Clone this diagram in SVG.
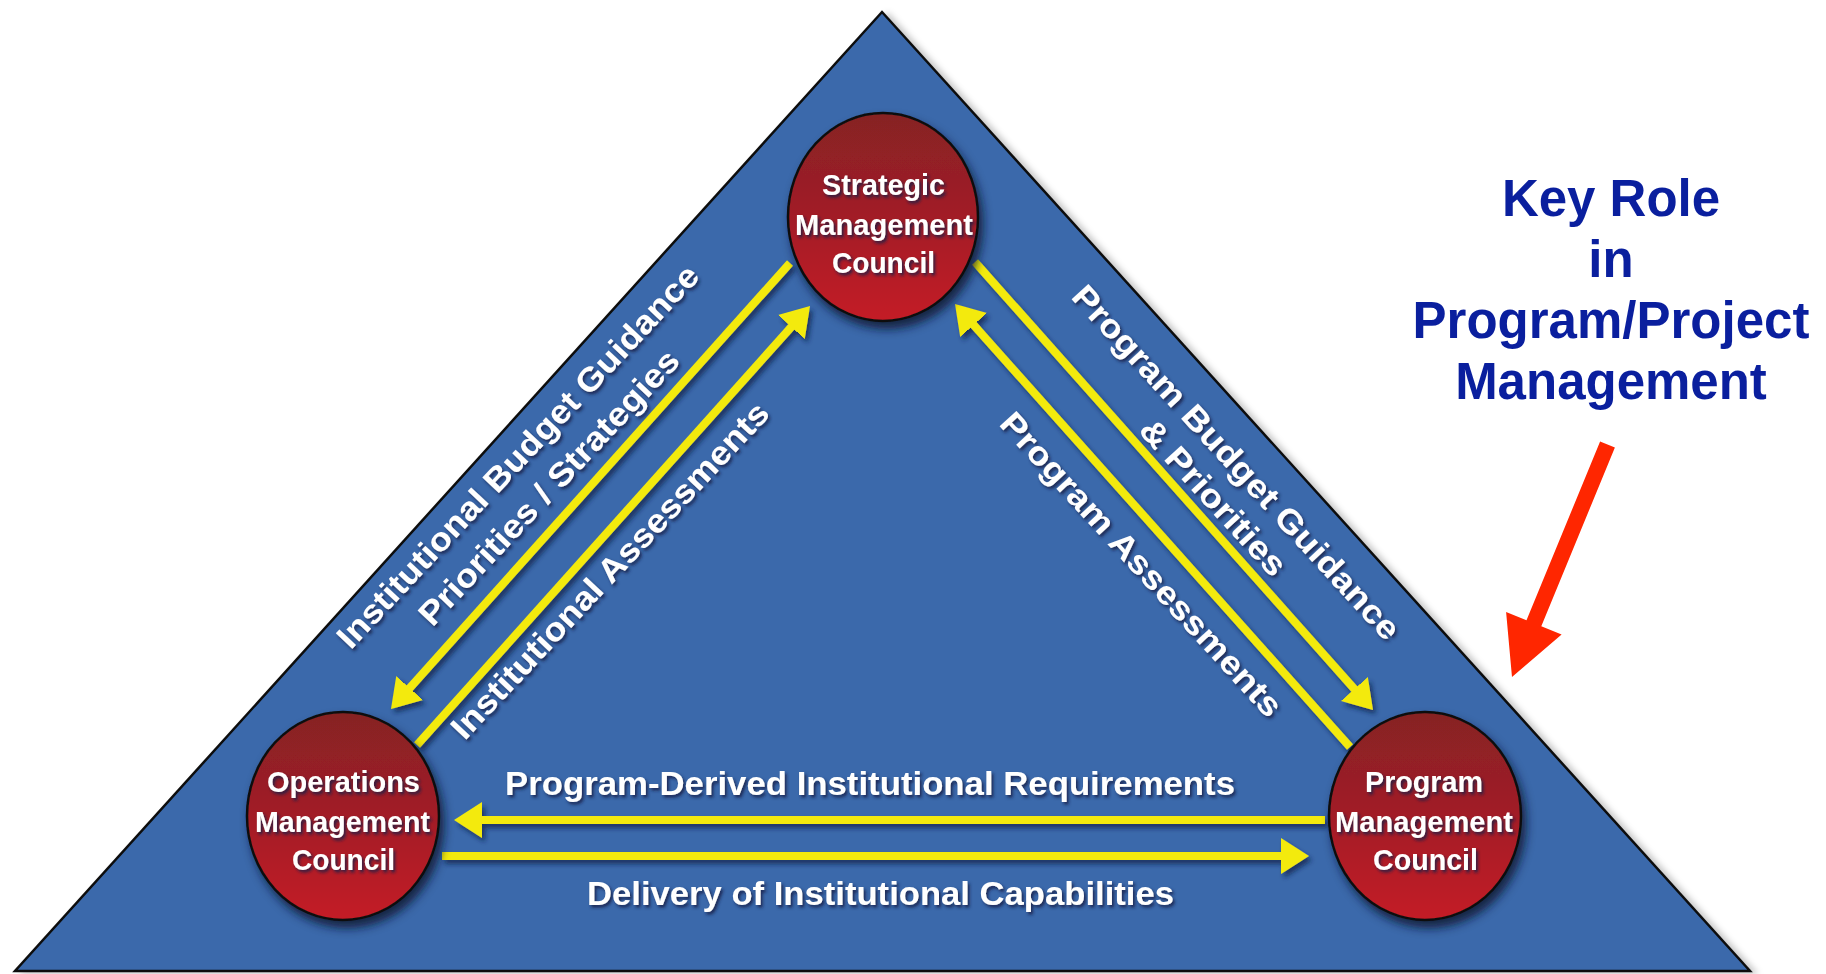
<svg xmlns="http://www.w3.org/2000/svg" width="1826" height="974" viewBox="0 0 1826 974">
  <defs>
    <style>
      .tri { fill: #3a69ab; stroke: #0d0d0d; stroke-width: 2.5; stroke-linejoin: miter; }
      .node { stroke: #111; stroke-width: 2.5; fill: url(#nodeFill); }
      .ntxt { font-family: "Liberation Sans Narrow", "Liberation Sans", Arial, sans-serif; font-weight: bold; font-size: 30px; fill: #ffffff; }
      .lbl { font-family: "Liberation Sans", Arial, sans-serif; font-weight: bold; font-size: 33px; fill: #ffffff; }
      .hlbl { font-family: "Liberation Sans Narrow", "Liberation Sans", Arial, sans-serif; font-weight: bold; font-size: 34px; fill: #ffffff; }
      .flow { stroke: #f3ea0c; stroke-width: 8; fill: none; marker-end: url(#head); }
      .key { font-family: "Liberation Sans", Arial, sans-serif; font-weight: bold; font-size: 51px; fill: #0a1f9e; text-anchor: middle; }
    </style>
    <linearGradient id="nodeFill" x1="0" y1="0" x2="0" y2="1">
      <stop offset="0" stop-color="#862224"/>
      <stop offset="0.5" stop-color="#a21d26"/>
      <stop offset="1" stop-color="#c41b26"/>
    </linearGradient>
    <marker id="head" markerUnits="userSpaceOnUse" viewBox="0 0 28 36" refX="16" refY="18" markerWidth="28" markerHeight="36" orient="auto">
      <path d="M0,0 L28,18 L0,36 Z" fill="#f3ea0c"/>
    </marker>
    <filter id="triShadow" x="-5%" y="-5%" width="115%" height="115%">
      <feDropShadow dx="6" dy="2" stdDeviation="3" flood-color="#000" flood-opacity="0.22"/>
    </filter>
    <filter id="nodeShadow" x="-20%" y="-20%" width="150%" height="150%">
      <feDropShadow dx="4" dy="7" stdDeviation="5" flood-color="#0b1430" flood-opacity="0.85"/>
    </filter>
    <filter id="arrowShadow" x="-10%" y="-10%" width="130%" height="130%">
      <feDropShadow dx="3" dy="4" stdDeviation="2.5" flood-color="#14224a" flood-opacity="0.75"/>
    </filter>
    <filter id="txtShadow" x="-10%" y="-10%" width="130%" height="130%">
      <feDropShadow dx="2" dy="2.5" stdDeviation="1.5" flood-color="#142046" flood-opacity="0.85"/>
    </filter>
  </defs>

  <rect width="1826" height="974" fill="#ffffff"/>

  <!-- governance triangle -->
  <polygon class="tri" points="882,12 1750,971 15,971" filter="url(#triShadow)"/>

  <!-- flows between councils -->
  <g id="connectors" filter="url(#arrowShadow)">
    <line class="flow" x1="790" y1="263" x2="399" y2="700"/>
    <line class="flow" x1="417" y1="745" x2="802" y2="315"/>
    <line class="flow" x1="975" y1="262" x2="1365" y2="701"/>
    <line class="flow" x1="1350" y1="747" x2="963" y2="313"/>
    <line class="flow" x1="1325" y1="820" x2="466" y2="820"/>
    <line class="flow" x1="442" y1="856" x2="1297" y2="856"/>
  </g>

  <!-- flow labels -->
  <g id="labels" filter="url(#txtShadow)">
    <text class="lbl" transform="translate(526,464) rotate(-46.8)" x="-256" y="0" textLength="512" lengthAdjust="spacingAndGlyphs">Institutional Budget Guidance</text>
    <text class="lbl" transform="translate(557,495) rotate(-46.8)" x="-182" y="0" textLength="364" lengthAdjust="spacingAndGlyphs">Priorities / Strategies</text>
    <text class="lbl" transform="translate(618,578) rotate(-46.8)" x="-224" y="0" textLength="448" lengthAdjust="spacingAndGlyphs">Institutional Assessments</text>
    <text class="lbl" transform="translate(1228,470) rotate(47.5)" x="-234" y="0" textLength="468" lengthAdjust="spacingAndGlyphs">Program Budget Guidance</text>
    <text class="lbl" transform="translate(1205,505) rotate(47.5)" x="-100" y="0" textLength="200" lengthAdjust="spacingAndGlyphs">&amp; Priorities</text>
    <text class="lbl" transform="translate(1133,572) rotate(47.5)" x="-200" y="0" textLength="400" lengthAdjust="spacingAndGlyphs">Program Assessments</text>
    <text class="hlbl" x="505" y="795" textLength="730" lengthAdjust="spacingAndGlyphs">Program-Derived Institutional Requirements</text>
    <text class="hlbl" x="587" y="905" textLength="587" lengthAdjust="spacingAndGlyphs">Delivery of Institutional Capabilities</text>
  </g>

  <!-- councils -->
  <g id="strategic-council">
    <ellipse class="node" cx="883" cy="217" rx="95" ry="104" filter="url(#nodeShadow)"/>
    <g filter="url(#txtShadow)">
      <text class="ntxt" x="822" y="195" textLength="123" lengthAdjust="spacingAndGlyphs">Strategic</text>
      <text class="ntxt" x="795" y="235" textLength="178" lengthAdjust="spacingAndGlyphs">Management</text>
      <text class="ntxt" x="832" y="273" textLength="103" lengthAdjust="spacingAndGlyphs">Council</text>
    </g>
  </g>

  <g id="operations-council">
    <ellipse class="node" cx="343" cy="816" rx="96" ry="104" filter="url(#nodeShadow)"/>
    <g filter="url(#txtShadow)">
      <text class="ntxt" x="267" y="792" textLength="153" lengthAdjust="spacingAndGlyphs">Operations</text>
      <text class="ntxt" x="255" y="832" textLength="175" lengthAdjust="spacingAndGlyphs">Management</text>
      <text class="ntxt" x="292" y="870" textLength="103" lengthAdjust="spacingAndGlyphs">Council</text>
    </g>
  </g>

  <g id="program-council">
    <ellipse class="node" cx="1425" cy="816" rx="96" ry="104" filter="url(#nodeShadow)"/>
    <g filter="url(#txtShadow)">
      <text class="ntxt" x="1365" y="792" textLength="118" lengthAdjust="spacingAndGlyphs">Program</text>
      <text class="ntxt" x="1335" y="832" textLength="178" lengthAdjust="spacingAndGlyphs">Management</text>
      <text class="ntxt" x="1373" y="870" textLength="105" lengthAdjust="spacingAndGlyphs">Council</text>
    </g>
  </g>

  <!-- callout -->
  <g id="key-role">
    <text class="key" x="1611" y="216">Key Role</text>
    <text class="key" x="1611" y="277">in</text>
    <text class="key" x="1611" y="338">Program/Project</text>
    <text class="key" x="1611" y="399">Management</text>
  </g>
  <polygon id="key-role-arrow" fill="#ff2600" points="1600.1,441.5 1614.9,447.5 1541.3,626.3 1561.6,634.6 1512,677 1506.1,612 1526.5,620.3"/>
</svg>
